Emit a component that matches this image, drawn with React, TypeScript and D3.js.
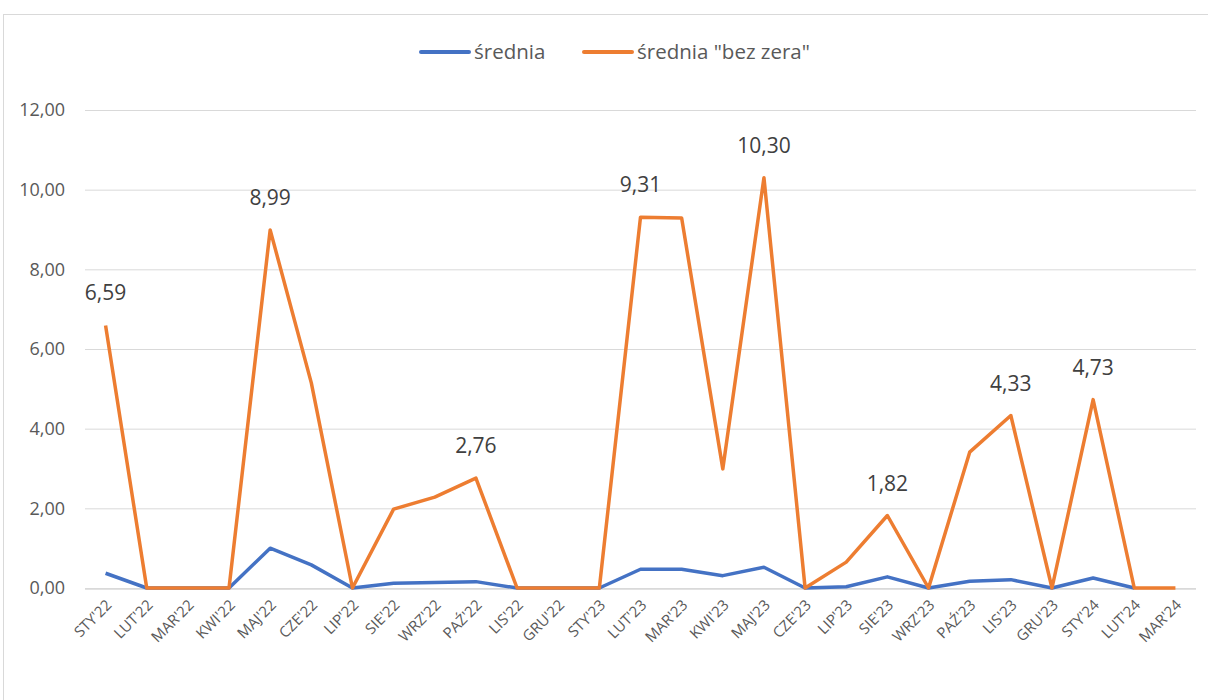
import * as d3 from "d3";

const months = [
  "STY'22", "LUT'22", "MAR'22", "KWI'22", "MAJ'22", "CZE'22", "LIP'22", "SIE'22", "WRZ'22",
  "PAŹ'22", "LIS'22", "GRU'22", "STY'23", "LUT'23", "MAR'23", "KWI'23", "MAJ'23", "CZE'23",
  "LIP'23", "SIE'23", "WRZ'23", "PAŹ'23", "LIS'23", "GRU'23", "STY'24", "LUT'24", "MAR'24",
];

const srednia: (number | null)[] = [
  0.37, 0, 0, 0, 1.0, 0.58, 0, 0.12, 0.14, 0.16, 0, 0, 0, 0.47, 0.47, 0.31, 0.52, 0,
  0.03, 0.28, 0, 0.17, 0.21, 0, 0.25, 0, null,
];

const sredniaBezZera: number[] = [
  6.59, 0, 0, 0, 8.99, 5.15, 0, 1.98, 2.28, 2.76, 0, 0, 0, 9.31, 9.29, 2.99, 10.3, 0,
  0.65, 1.82, 0, 3.41, 4.33, 0, 4.73, 0, 0,
];

// points of the orange series that carry a value label
const labeled = [0, 4, 9, 13, 16, 19, 22, 24];

const yTicks = [0, 2, 4, 6, 8, 10, 12];

const W = 1208;
const H = 700;
const FONT = "'Open Sans', 'Liberation Sans', sans-serif";
const BLUE = "#4472C4";
const ORANGE = "#ED7D31";
const TEXT = "#595959";

export default function App() {
  const x = d3.scaleBand<string>().domain(months).range([85, 1196]);
  const y = d3.scaleLinear().domain([0, 12]).range([588, 110]);
  const cx = (i: number) => (x(months[i]) ?? 0) + x.bandwidth() / 2;

  const line = d3
    .line<number | null>()
    .defined((d) => d !== null)
    .x((_, i) => cx(i))
    .y((d) => y(d as number));

  const fmt = (v: number) => v.toFixed(2).replace(".", ",");

  return (
    <>
      <style>{`body{margin:0}`}</style>
      <svg width={W} height={H} style={{ display: "block", fontFamily: FONT }}>
        <rect x={0} y={0} width={W} height={H} fill="white" />
        <rect x={3.5} y={14.5} width={1220} height={700} fill="none" stroke="#d9d9d9" />

        {/* legend */}
        <g fontSize={20.5} fill={TEXT}>
          <line x1={421} x2={469} y1={52} y2={52} stroke={BLUE} strokeWidth={4} strokeLinecap="round" />
          <text x={474} y={59}>średnia</text>
          <line x1={584} x2={632} y1={52} y2={52} stroke={ORANGE} strokeWidth={4} strokeLinecap="round" />
          <text x={637} y={59}>średnia "bez zera"</text>
        </g>

        {/* grid + y axis */}
        {yTicks.map((t) => (
          <g key={t}>
            <line x1={85} x2={1196} y1={y(t) + 0.5} y2={y(t) + 0.5} stroke="#d9d9d9" strokeWidth={1} />
            <text x={65} y={y(t)} dy="0.35em" textAnchor="end" fontSize={18} fill={TEXT}>
              {fmt(t)}
            </text>
          </g>
        ))}
        <line x1={85} x2={1196} y1={589} y2={589} stroke="#d9d9d9" strokeWidth={1.5} />

        {/* x axis labels */}
        {months.map((m, i) => (
          <text
            key={m}
            transform={`translate(${cx(i) + 7},${606}) rotate(-45)`}
            textAnchor="end"
            fontSize={15}
            fill={TEXT}
          >
            {m}
          </text>
        ))}

        <path d={line(srednia) ?? ""} fill="none" stroke={BLUE} strokeWidth={3.5} strokeLinejoin="round" />
        <path d={line(sredniaBezZera) ?? ""} fill="none" stroke={ORANGE} strokeWidth={3.5} strokeLinejoin="round" />

        {labeled.map((i) => (
          <text
            key={i}
            x={cx(i)}
            y={y(sredniaBezZera[i]) - 25}
            textAnchor="middle"
            fontSize={21}
            fill="#404040"
          >
            {fmt(sredniaBezZera[i])}
          </text>
        ))}
      </svg>
    </>
  );
}
